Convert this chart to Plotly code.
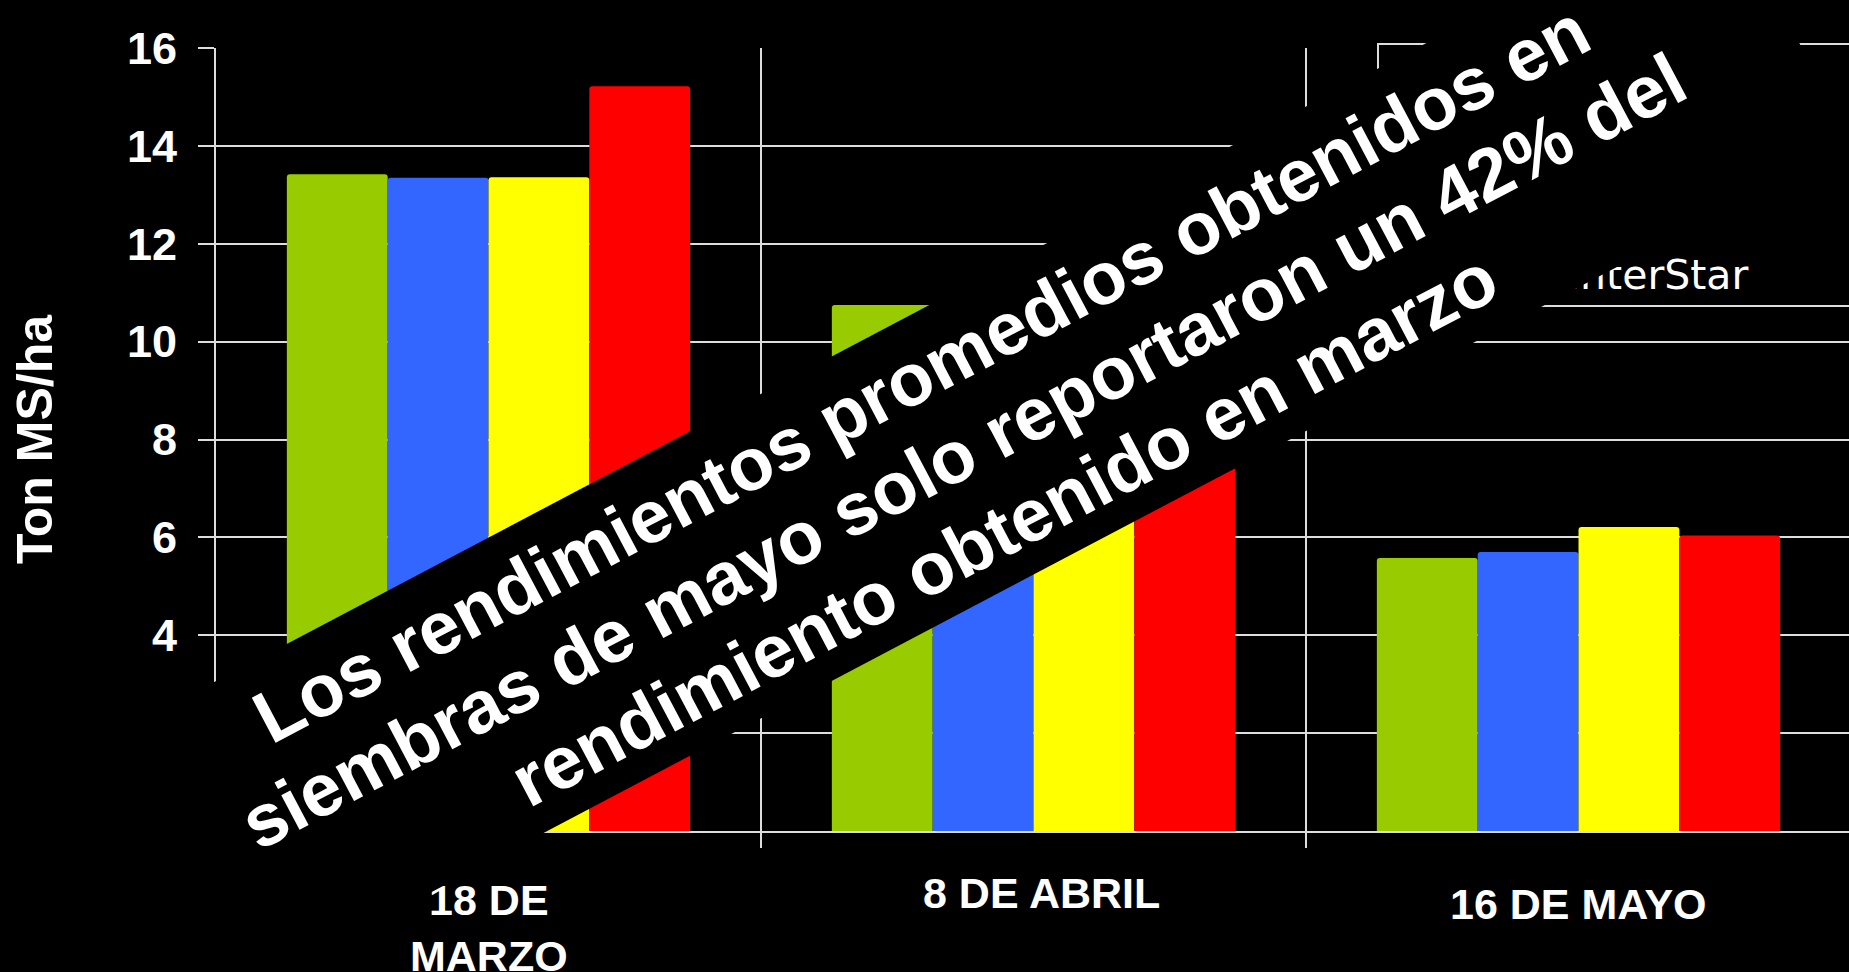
import math
import plotly.graph_objects as go

# ---------------- data ----------------
categories = ["18 DE MARZO", "8 DE ABRIL", "16 DE MAYO"]
category_labels = ["18 DE<br>MARZO", "8 DE ABRIL", "16 DE MAYO"]
series_names = ["", "", "", "InterStar"]          # first three legend names are hidden in the picture
series_colors = ["#99CC00", "#3366FF", "#FFFF00", "#FF0000"]
green_values = [13.42, 10.75, 5.58]
blue_values = [13.35, 9.9, 5.70]                  # April value hidden behind the text box (estimate)
yellow_values = [13.36, 10.2, 6.21]               # April value hidden behind the text box (estimate)
red_values = [15.22, 10.6, 6.04]                  # April value hidden behind the text box (estimate)
series_values = [green_values, blue_values, yellow_values, red_values]
y_tick_values = [0, 2, 4, 6, 8, 10, 12, 14, 16]
y_title = "Ton MS/ha"
message_lines = [
    "Los rendimientos promedios obtenidos en",
    "siembras de mayo solo reportaron un 42% del",
    "rendimiento obtenido en marzo",
]

# ---------------- layout geometry (pixels) ----------------
W, H = 1849, 972
L, T, B = 216, 48, 831
R = W


def px_x(p):
    return (p - L) / (R - L)


def px_y(p):
    return (B - p) / (B - T)


FONT = "Liberation Sans, Arial, Helvetica, sans-serif"

fig = go.Figure()
for name, color, vals in zip(series_names, series_colors, series_values):
    fig.add_trace(go.Bar(
        x=categories, y=vals, name=name,
        marker=dict(color=color, line=dict(width=0), cornerradius=3),
        showlegend=False,
    ))

shapes = []
annotations = []

# category labels
label_centers_px = [928, 893, 903.5]
label_xshift = [0, 8, 0]
for i, (lab, cy, xs) in enumerate(zip(category_labels, label_centers_px, label_xshift)):
    annotations.append(dict(
        x=i, xref="x", y=px_y(cy), yref="paper", text=lab, showarrow=False,
        xanchor="center", yanchor="middle", align="center", xshift=xs,
        font=dict(family=FONT, size=43, color="white", weight="bold"),
    ))

# legend frame (mostly hidden by the message box)
shapes.append(dict(
    type="rect", xref="paper", yref="paper", layer="above",
    x0=px_x(1378), x1=px_x(1900), y0=px_y(306), y1=px_y(44),
    line=dict(color="#dddddd", width=2), fillcolor="black",
))
row_centers = [89, 151, 213, 275]
for name, color, cy in zip(series_names, series_colors, row_centers):
    shapes.append(dict(
        type="rect", xref="paper", yref="paper", layer="above",
        x0=px_x(1533), x1=px_x(1555), y0=px_y(cy + 11), y1=px_y(cy - 11),
        line=dict(width=0), fillcolor=color,
    ))
    if name:
        annotations.append(dict(
            x=px_x(1566), xref="paper", y=px_y(cy), yref="paper", text=name,
            showarrow=False, xanchor="left", yanchor="middle",
            font=dict(family="DejaVu Sans, sans-serif", size=41, color="white"),
        ))

# rotated message box
ang = 27.8
ca, sa = math.cos(math.radians(ang)), math.sin(math.radians(ang))


def uv_to_px(u, v):
    return u * ca + v * sa, -u * sa + v * ca


box_u, box_v = 638, 847
bx, by = uv_to_px(box_u, box_v)
annotations.append(dict(
    x=px_x(bx), xref="paper", y=px_y(by), yref="paper", text=" ",
    showarrow=False, xanchor="center", yanchor="middle",
    width=1868, height=287, bgcolor="black", borderpad=0, borderwidth=0,
    textangle=-ang, font=dict(size=10, color="black"),
))
line_v = [758, 846, 934]
for txt, v in zip(message_lines, line_v):
    lx, ly = uv_to_px(box_u + 3, v + 2)
    annotations.append(dict(
        x=px_x(lx), xref="paper", y=px_y(ly), yref="paper", text=txt,
        showarrow=False, xanchor="center", yanchor="middle", textangle=-ang,
        font=dict(family=FONT, size=74, color="white", weight="bold"),
    ))

fig.update_layout(
    width=W, height=H, autosize=False,
    margin=dict(l=L, r=W - R, t=T, b=H - B, pad=0),
    paper_bgcolor="black", plot_bgcolor="black",
    barmode="group", bargap=0.26, bargroupgap=0,
    shapes=shapes, annotations=annotations,
    xaxis=dict(
        type="category", range=[-0.5, -0.5 + (R - L) / 545.0],
        tickson="boundaries", ticks="outside", ticklen=15, tickwidth=1.5,
        tickcolor="#dddddd", showgrid=True, gridcolor="#dddddd", gridwidth=1.5,
        showline=True, linecolor="#dddddd", linewidth=2,
        showticklabels=False, zeroline=False, fixedrange=True,
    ),
    yaxis=dict(
        range=[0, 16], tickvals=y_tick_values, ticks="outside", ticklen=16,
        tickwidth=1.5, tickcolor="#dddddd", showgrid=True, gridcolor="#dddddd",
        gridwidth=1.5, showline=True, linecolor="#dddddd", linewidth=2,
        zeroline=False, ticklabelstandoff=12,
        tickfont=dict(family=FONT, size=45, color="white", weight="bold"),
        title=dict(text=y_title, standoff=58,
                   font=dict(family=FONT, size=50, color="white", weight="bold")),
        fixedrange=True,
    ),
    showlegend=False,
)

fig.write_html(
    "out.html",
    config={"displayModeBar": False, "responsive": False},
    post_script="document.body.style.margin='0';document.body.style.overflow='hidden';",
)
